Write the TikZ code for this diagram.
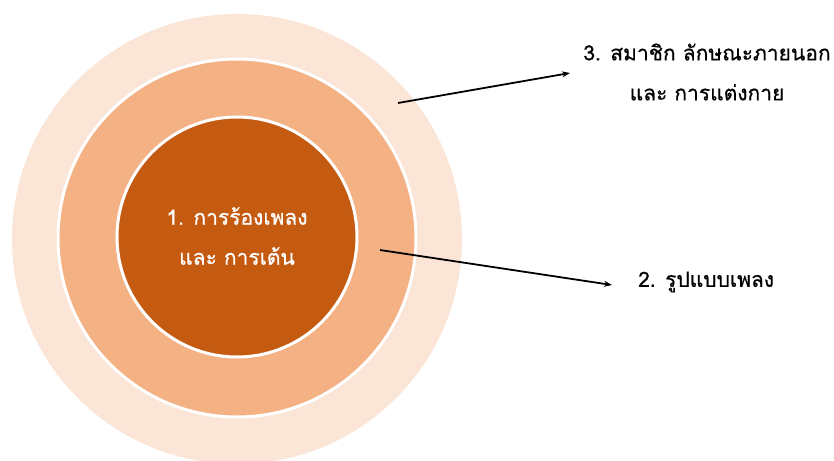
\documentclass[tikz,border=0pt]{standalone}
\usepackage{fontspec}
\newfontfamily\thaifont[Script=Thai,FakeBold=0.6]{Loma}
\usetikzlibrary{arrows.meta}
\definecolor{ringout}{HTML}{FBE5D6}
\definecolor{ringmid}{HTML}{F4B183}
\definecolor{ringin}{HTML}{C55A11}
\tikzset{
  ring/.style={circle, draw=white, line width=3pt, inner sep=0pt},
  lbl/.style={font=\thaifont\fontsize{21}{40}\selectfont, align=center, inner sep=0pt},
  conn/.style={line width=1.8pt, -{Stealth[length=8pt,width=6pt]}}
}
\begin{document}
\begin{tikzpicture}[x=1pt,y=-1pt]
\useasboundingbox (0,0) rectangle (834,460);
\clip (0,0) rectangle (834,460);
\fill[white] (0,0) rectangle (834,460);
\node[ring, draw=none, fill=ringout, minimum size=450pt] (outer) at (237,239) {};
\node[ring, fill=ringmid, minimum size=358pt] (mid) at (237,238) {};
\node[ring, fill=ringin, minimum size=240pt] (inner) at (237,237) {};
\node[lbl, text=white] (t1) at (237,236) {1. การร้องเพลง\\และ การเต้น};
\node[lbl, anchor=west] (t2) at (638,282) {2. รูปแบบเพลง};
\node[lbl] (t3) at (707,72) {3. สมาชิก ลักษณะภายนอก\\และ การแต่งกาย};
\coordinate (s3) at (398,103);
\coordinate (e3) at (570,73);
\coordinate (s2) at (380,250);
\coordinate (e2) at (612,285);
\draw[conn] (s3) -- (e3);
\draw[conn] (s2) -- (e2);
\end{tikzpicture}
\end{document}
